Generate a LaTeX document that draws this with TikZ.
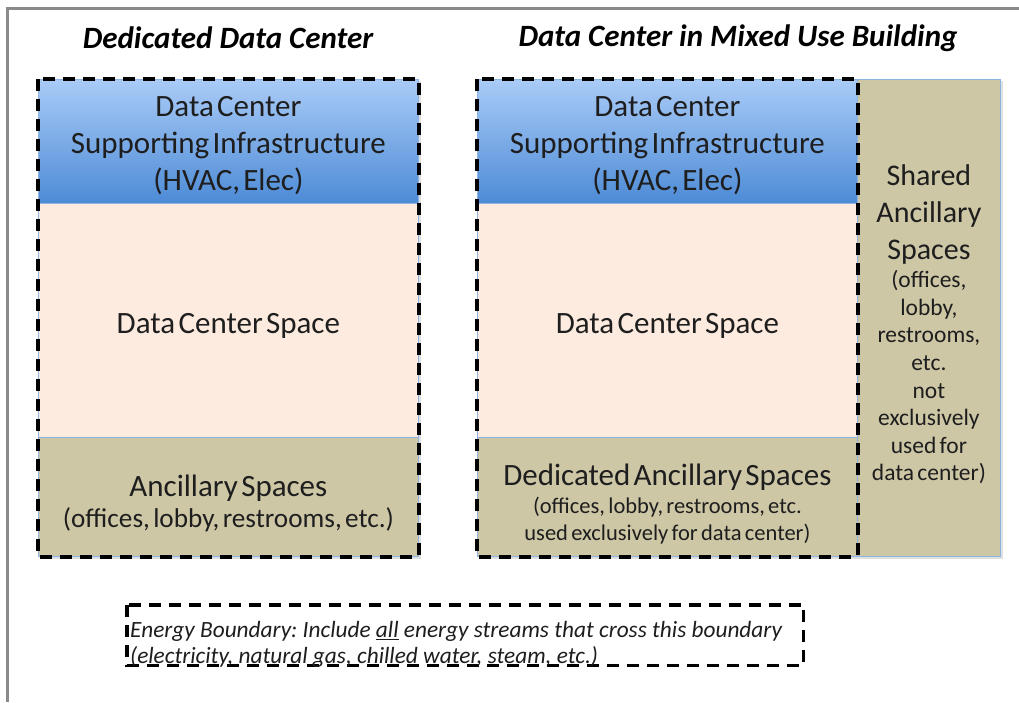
\documentclass[tikz,border=0pt]{standalone}
\usepackage{fontspec}
\setmainfont{Carlito}[WordSpace=1.7]
\newfontfamily\plainfont{Carlito}
\frenchspacing
\usetikzlibrary{positioning}
\definecolor{bluetop}{HTML}{A9CBF7}
\definecolor{bluebot}{HTML}{4D8BD6}
\definecolor{pinkfill}{HTML}{FDEBDF}
\definecolor{tanfill}{HTML}{CDC7A6}
\definecolor{edgeblue}{HTML}{8DB3E2}
\definecolor{framegray}{HTML}{8A8A8A}
\definecolor{textgray}{HTML}{1E1E1E}
\newcommand\bigtxt[1]{{\fontsize{31}{37}\selectfont #1\par}}
\newcommand\topgap[1]{\par\vspace*{#1}}
\tikzset{
  x=1pt, y=-1pt,
  region/.style={rectangle, anchor=north west, inner sep=0pt, draw=edgeblue, line width=0.8pt, align=center, text=textgray},
  infra/.style={region, top color=bluetop, bottom color=bluebot, minimum width=380pt, minimum height=124pt, text width=376pt},
  dcspace/.style={region, fill=pinkfill, minimum width=380pt, minimum height=234pt, text width=376pt},
  ancil/.style={region, fill=tanfill, minimum width=380pt, minimum height=119pt, text width=376pt},
  boundary/.style={draw=black, line width=4pt, dash pattern=on 12pt off 8pt},
  title/.style={font=\plainfont\fontsize{31}{36}\selectfont\bfseries\itshape, text=black},
  shadowbox/.style={fill=black!12}
}
\begin{document}
\begin{tikzpicture}
\useasboundingbox (0,0) rectangle (1019,702);
\fill[white] (0,0) rectangle (1019,702);
% frame
\draw[framegray, line width=3pt] (7,702) -- (7,8) -- (1019,8);

% titles
\node[title] (t1) at (228,38) {Dedicated Data Center};
\node[title] (t2) at (738,38) {Data Center in Mixed Use Building};

% shadows
\fill[shadowbox] (40,81) rectangle (421,559);
\fill[shadowbox] (479,81) rectangle (1003,559);

% left column
\node[infra] (linfra) at (38,79) {\topgap{-8pt}\bigtxt{Data Center\par Supporting Infrastructure\par (HVAC, Elec)}};
\node[dcspace] (lspace) at (38,203) {\topgap{-6pt}\bigtxt{Data Center Space}};
\node[ancil] (lanc) at (38,437) {\topgap{-2pt}\bigtxt{Ancillary Spaces}{\fontsize{27.2}{31}\selectfont (offices, lobby, restrooms, etc.)\par}};
\draw[boundary] (linfra.north west) rectangle (lanc.south east);

% right column
\node[infra] (rinfra) at (477,79) {\topgap{-8pt}\bigtxt{Data Center\par Supporting Infrastructure\par (HVAC, Elec)}};
\node[dcspace] (rspace) at (477,203) {\topgap{-6pt}\bigtxt{Data Center Space}};
\node[ancil] (ranc) at (477,437) {\topgap{-1.5pt}{\fontsize{31}{37}\selectfont Dedicated Ancillary Spaces\par}\vspace{2pt}{\fontsize{22.5}{26.5}\selectfont (offices, lobby, restrooms, etc.\par used exclusively for data center)\par}};
\node[region, fill=tanfill, minimum width=143pt, minimum height=477pt, text width=141pt] (shared) at (857,79) {\topgap{-3.6pt}{\fontsize{30}{37}\selectfont Shared\par Ancillary\par Spaces\par}\vspace{1pt}{\fontsize{23.5}{27.6}\selectfont (offices,\par lobby,\par restrooms,\par etc.\par not\par exclusively\par used for\par data center)\par}};
\draw[boundary] (rinfra.north west) rectangle (ranc.south east);

% energy boundary
\node[rectangle, anchor=north west, minimum width=676pt, minimum height=60pt, inner sep=0pt] (ebox) at (127,605) {};
\draw[boundary, line width=3.5pt] (ebox.north west) rectangle (ebox.south east);
\node[anchor=west, align=left, inner sep=0pt, text=textgray, font=\plainfont\fontsize{23.3}{25.5}\selectfont\itshape] (etext) at ([xshift=3pt,yshift=-9pt]ebox.west) {Energy Boundary: Include \underline{all} energy streams that cross this boundary\\(electricity, natural gas, chilled water, steam, etc.)};
\end{tikzpicture}
\end{document}
